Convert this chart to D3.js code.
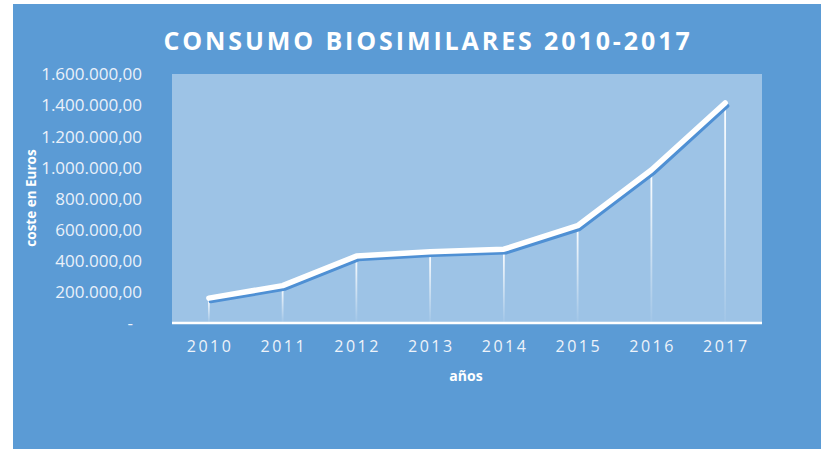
<!DOCTYPE html>
<html>
<head>
<meta charset="utf-8">
<script src="https://cdn.jsdelivr.net/npm/d3@7"></script>
<style>
  html, body { margin: 0; padding: 0; background: #ffffff; }
  svg { display: block; }
</style>
</head>
<body>
<svg id="chart" width="821" height="449"></svg>
<script>
// Consumo de biosimilares, coste anual en euros
const years = ["2010", "2011", "2012", "2013", "2014", "2015", "2016", "2017"];
const costs = [160000, 240000, 430000, 458000, 474000, 625000, 983000, 1414000];
const yTicks = [0, 200000, 400000, 600000, 800000, 1000000, 1200000, 1400000, 1600000];

const titleText = "CONSUMO BIOSIMILARES 2010-2017";
const yTitle = "coste en Euros";
const xTitle = "años";

const W = 821, H = 449;
const plot = { left: 172, right: 762, top: 74, bottom: 323 };

const svg = d3.select("#chart");

const defs = svg.append("defs");
const grad = defs.append("linearGradient")
  .attr("id", "dropFade").attr("x1", 0).attr("y1", 0).attr("x2", 0).attr("y2", 1);
grad.append("stop").attr("offset", "0%").attr("stop-color", "#ffffff").attr("stop-opacity", 1);
grad.append("stop").attr("offset", "100%").attr("stop-color", "#ffffff").attr("stop-opacity", 0.05);

// chart background
svg.append("rect")
  .attr("x", 13).attr("y", 4).attr("width", W - 13).attr("height", H - 4)
  .attr("fill", "#5b9bd5");

// plot area
svg.append("rect")
  .attr("x", plot.left).attr("y", plot.top)
  .attr("width", plot.right - plot.left).attr("height", plot.bottom - plot.top)
  .attr("fill", "#9dc3e6");

const x = d3.scaleBand().domain(years).range([plot.left, plot.right]).padding(0);
const y = d3.scaleLinear().domain([0, 1600000]).range([plot.bottom, plot.top]);
const cx = d => x(d) + x.bandwidth() / 2;

// y axis labels (spanish number format)
const fmtES = v => v === 0 ? "-" :
  d3.format(",.2f")(v).replace(/,/g, "#").replace(/\./g, ",").replace(/#/g, ".");

const yAxis = d3.axisLeft(y).tickValues(yTicks).tickFormat(fmtES).tickSize(0).tickPadding(0);
const gy = svg.append("g").attr("transform", `translate(142,0)`).call(yAxis);
gy.select(".domain").remove();
gy.selectAll("text")
  .attr("fill", "#eaf1fa")
  .attr("font-family", "'Open Sans', sans-serif")
  .attr("font-size", 17)
  .attr("dy", "0.34em");
gy.selectAll(".tick").filter(d => d === 0).select("text").attr("dx", "-9px");

// x axis
const xAxis = d3.axisBottom(x).tickSize(0).tickPadding(0);
const gx = svg.append("g").attr("transform", `translate(0,${plot.bottom})`).call(xAxis);
gx.select(".domain").attr("stroke", "#ffffff").attr("stroke-width", 2.5)
  .attr("d", `M${plot.left},0H${plot.right}`);
gx.selectAll("text")
  .attr("fill", "#eef3fa")
  .attr("font-family", "'Open Sans', sans-serif")
  .attr("font-size", 16)
  .attr("letter-spacing", "2.5px")
  .attr("dx", "1.2px")
  .attr("y", 24)
  .attr("dy", "0.34em");

// drop lines from each point to the axis
svg.append("g").selectAll("rect")
  .data(years.map((yr, i) => ({ yr, v: costs[i] })))
  .join("rect")
  .attr("x", d => cx(d.yr) - 0.9)
  .attr("y", d => y(d.v))
  .attr("width", 1.8)
  .attr("height", d => plot.bottom - 1 - y(d.v))
  .attr("fill", "url(#dropFade)");

const pts = years.map((yr, i) => [cx(yr), y(costs[i])]);
const line = d3.line();

// shadow of the series line
svg.append("path")
  .attr("d", line(pts))
  .attr("transform", "translate(2,3)")
  .attr("fill", "none")
  .attr("stroke", "#4f90d4")
  .attr("stroke-width", 4.5)
  .attr("stroke-linejoin", "round")
  .attr("stroke-linecap", "round");

// series line
svg.append("path")
  .attr("d", line(pts))
  .attr("fill", "none")
  .attr("stroke", "#ffffff")
  .attr("stroke-width", 5.5)
  .attr("stroke-linejoin", "round")
  .attr("stroke-linecap", "round");

// title
svg.append("text")
  .attr("x", 428).attr("y", 50)
  .attr("text-anchor", "middle")
  .attr("fill", "#ffffff")
  .attr("font-family", "'Open Sans', sans-serif")
  .attr("font-weight", 700)
  .attr("font-size", 25)
  .attr("letter-spacing", "2.9px")
  .text(titleText);

// axis titles
svg.append("text")
  .attr("transform", "translate(36,198) rotate(-90)")
  .attr("text-anchor", "middle")
  .attr("fill", "#ffffff")
  .attr("font-family", "'Open Sans', sans-serif")
  .attr("font-weight", 700)
  .attr("font-size", 13.5)
  .text(yTitle);

svg.append("text")
  .attr("x", 466).attr("y", 381)
  .attr("text-anchor", "middle")
  .attr("fill", "#ffffff")
  .attr("font-family", "'Open Sans', sans-serif")
  .attr("font-weight", 700)
  .attr("font-size", 14)
  .text(xTitle);
</script>
</body>
</html>
